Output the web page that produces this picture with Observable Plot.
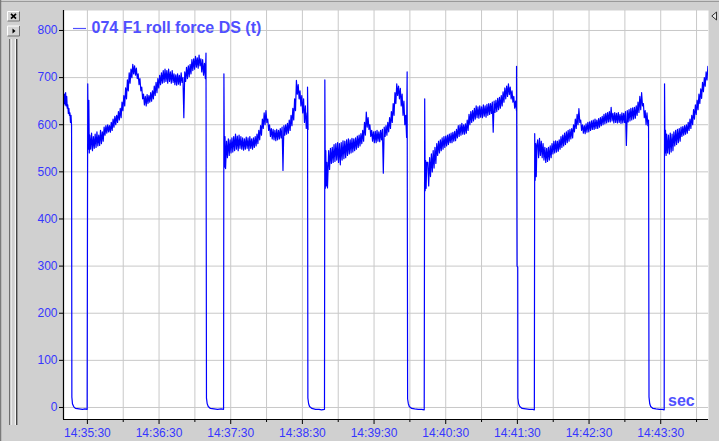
<!DOCTYPE html>
<html>
<head>
<meta charset="utf-8">
<script src="https://cdn.jsdelivr.net/npm/d3@7"></script>
<script src="https://cdn.jsdelivr.net/npm/@observablehq/plot@0.6"></script>
<style>
  html, body { margin: 0; padding: 0; background: #d0d0d0; }
  #wrap { position: relative; width: 719px; height: 441px; background: #d0d0d0; overflow: hidden; }
  #chart { position: absolute; left: 0; top: 0; }
  #deco { position: absolute; left: 0; top: 0; pointer-events: none; }
</style>
</head>
<body>
<div id="wrap">
  <div id="chart"></div>
  <svg id="deco" width="719" height="441" font-family="Liberation Sans, Arial, sans-serif">
    <line x1="0" y1="1.5" x2="719" y2="1.5" stroke="#9a9a9a" stroke-width="1"/>
    <line x1="0.5" y1="0" x2="0.5" y2="441" stroke="#7a7a7a" stroke-width="1.5"/>
    <rect x="7.5" y="11.5" width="12" height="9.5" fill="#d4d4d4" stroke="none"/>
    <path d="M7.5 21 V11.5 H19.5" fill="none" stroke="#ffffff"/>
    <path d="M7.5 21 H19.5 V11.5" fill="none" stroke="#707070"/>
    <path d="M11 13.8 L16 18.6 M16 13.8 L11 18.6" stroke="#000" stroke-width="1.6"/>
    <rect x="7.5" y="26" width="12" height="10" fill="#d4d4d4"/>
    <path d="M7.5 36 V26 H19.5" fill="none" stroke="#ffffff"/>
    <path d="M7.5 36 H19.5 V26" fill="none" stroke="#707070"/>
    <path d="M12.5 28.5 L15.5 31 L12.5 33.5 Z" fill="#000"/>
    <line x1="9.8" y1="39" x2="9.8" y2="425" stroke="#555" stroke-width="1.2"/>
    <line x1="11" y1="39" x2="11" y2="425" stroke="#fff" stroke-width="1"/>
    <line x1="15.3" y1="39" x2="15.3" y2="425" stroke="#fff" stroke-width="1"/>
    <line x1="16.7" y1="39" x2="16.7" y2="425" stroke="#444" stroke-width="1.4"/>
    <path d="M711.8 16 L716.5 12 L716.5 20 Z" fill="#e8e8e8" stroke="#303030" stroke-width="1"/>
    <line x1="73" y1="28.5" x2="86" y2="28.5" stroke="#5050ff" stroke-width="1.2"/>
    <text id="legendText" x="91.5" y="33.3" font-size="16" font-weight="bold" fill="#5050ff"></text>
    <text id="unitText" x="668" y="406" font-size="16" font-weight="bold" fill="#5050ff"></text>
  </svg>
</div>
<script>
// ---------------- data (seconds after 14:35:00, force in t) ----------------
const seriesName = "074 F1 roll force DS (t)";
const unitLabel = "sec";
const baseLabel = "14:35:00";
const xTickLabels = ["14:35:30","14:36:30","14:37:30","14:38:30","14:39:30","14:40:30","14:41:30","14:42:30","14:43:30"];
const xMinorLabels = ["14:36:00","14:37:00","14:38:00","14:39:00","14:40:00","14:41:00","14:42:00","14:43:00","14:44:00"];
const xDomainLabels = ["14:35:10","14:44:10"];
const yTicks = [0,100,200,300,400,500,600,700,800];
const yDomain = [-25.5, 842.4];

// rolling plateaus, regularly sampled: upper and lower edge of the noisy signal
const runStarts = [10, 32, 146.5, 232, 315, 407, 515];
const runSteps  = [0.9, 1.5, 1.5, 1.5, 1.5, 1.5, 1.5];
const run1Hi = [662,665,668,660,642,635,625,620];
const run1Lo = [645,642,640,635,624,620,605,598];
const run2Hi = [578,582,575,580,585,578,588,585,595,598,
                600,598,605,612,618,620,628,635,648,662,
                678,695,710,718,728,725,720,708,698,680,
                665,660,664,662,668,672,682,690,698,705,
                710,715,718,715,718,712,715,708,706,708,
                705,710,700,712,722,725,728,738,740,745,
                742,748,740,738,730];
const run2Lo = [548,545,550,552,555,556,560,565,578,582,
                585,584,588,595,600,605,610,615,630,640,
                655,672,688,700,708,705,698,685,672,655,
                642,640,645,648,650,655,662,668,678,685,
                688,690,692,688,692,688,690,685,684,686,
                684,690,615,692,698,702,708,715,718,722,
                720,725,712,705,698];
const run3Hi = [565,570,568,572,575,580,576,578,575,572,
                570,574,572,575,570,572,575,580,588,598,
                612,625,630,612,600,592,590,588,590,588,
                592,595,598,600,603,610,620,635,655,694,
                685,672,662,655,640,625];
const run3Lo = [530,535,540,542,545,548,545,550,548,546,
                548,550,545,550,548,552,555,560,568,578,
                592,600,605,588,575,570,568,566,568,570,
                572,503,578,580,582,588,598,610,630,665,
                655,640,625,605,592,590];
const run4Hi = [545,550,552,558,560,562,560,562,566,565,
                568,570,568,571,570,572,576,578,581,588,
                605,627,615,600,588,585,586,588,585,588,
                590,595,598,605,615,628,645,668,687,682,
                677,665,650,620];
const run4Lo = [505,518,520,522,525,520,515,525,528,530,
                535,538,540,542,545,548,552,555,560,565,
                578,595,590,575,565,562,562,565,564,568,
                497,575,578,585,592,605,620,645,662,655,
                640,620,600,573];
const run5Hi = [520,530,538,545,552,560,565,568,572,575,
                576,578,580,582,584,586,590,598,600,603,
                600,602,610,622,628,630,635,640,638,640,
                638,642,640,643,645,645,648,650,652,656,
                658,662,670,678,682,687,680,672,660,650];
const run5Lo = [470,490,500,508,518,535,540,545,548,552,
                555,558,562,562,565,566,572,575,578,580,
                580,582,588,600,605,608,612,615,614,616,
                615,618,616,620,622,624,584,626,628,632,
                635,640,648,655,660,664,655,648,635,630];
const run6Hi = [568,571,565,560,552,550,552,555,560,565,
                566,565,568,575,578,582,585,588,590,592,
                600,612,622,634,610,600,598,602,605,606,
                608,610,612,610,613,615,618,622,624,626,
                628,637,624,626,624,626,622,625,624,628,
                630,632,635,636,637,640,648,660,668,645,
                630,625];
const run6Lo = [530,535,530,525,520,522,525,530,538,540,
                542,544,548,552,555,558,562,565,570,572,
                585,592,600,605,588,582,581,584,585,588,
                590,590,592,592,595,598,600,602,604,606,
                606,608,604,605,604,605,603,604,605,556,
                606,608,610,612,614,620,626,632,640,615,
                600,598];
const run7Hi = [580,578,582,580,585,588,590,592,595,596,
                598,600,605,612,620,632,642,652,665,676,
                690,700,712,724];
const run7Lo = [540,538,542,545,555,558,562,565,575,578,
                580,582,588,592,600,612,622,632,645,656,
                670,682,695,705];

// stops between plateaus: [seconds, force]
const gap1 = [[17.0,22],[17.5,8],[18.5,2],[20,-2],[23,-3],[26,-4],[28,-3],[29.8,-4],[30.3,687],[30.7,548],[31.2,652],[31.6,540]];
const gap2 = [[129.3,752],[129.7,20],[130.3,8],[131.2,2],[133,-2],[136,-3],[139,-4],[142,-3],[144,-4],[144.3,708],[144.7,510],[145.2,575],[145.7,507]];
const gap3 = [[214.3,680],[214.6,20],[215.2,8],[216,2],[218,-2],[221,-4],[224,-4],[226,-5],[228.5,-4],[228.8,695],[229.2,465],[229.6,545],[230.0,470],[230.5,520],[231,466]];
const gap4 = [[297.7,712],[298.1,18],[298.7,8],[299.5,2],[301.5,-2],[304,-3],[307,-4],[310,-4],[312,-5],[312.4,655],[312.8,460],[313.2,524],[313.6,465],[314.1,520]];
const gap5 = [[389.3,724],[389.7,300],[390.3,298],[390.4,20],[391,8],[392,2],[394,-2],[397,-3],[400,-4],[403,-4],[404.2,-5],[404.5,581],[404.9,482],[405.3,560],[405.8,490],[406.3,555]];
const gap6 = [[499.8,610],[500.2,22],[500.8,8],[501.6,2],[503.5,-2],[506,-3],[509,-4],[511.5,-4],[512.9,-5],[513.2,687],[513.6,540],[514,588],[514.5,535]];

// ---------------- build table ----------------
const parseT = d3.utcParse("%H:%M:%S");
const base = parseT(baseLabel).getTime();
const at = (s) => new Date(base + s * 1000);
const runsHi = [run1Hi, run2Hi, run3Hi, run4Hi, run5Hi, run6Hi, run7Hi];
const runsLo = [run1Lo, run2Lo, run3Lo, run4Lo, run5Lo, run6Lo, run7Lo];
const gaps = [gap1, gap2, gap3, gap4, gap5, gap6];
const points = [];
runsHi.forEach((hi, i) => {
  const lo = runsLo[i];
  hi.forEach((v, j) => {
    const t = runStarts[i] + j * runSteps[i];
    points.push({time: at(t), force: v});
    points.push({time: at(t + runSteps[i] / 2), force: lo[j]});
  });
  if (gaps[i]) gaps[i].forEach(([s, v]) => points.push({time: at(s), force: v}));
});

const majorTimes = xTickLabels.map(parseT);
const minorTimes = xMinorLabels.map(parseT);
const gridTimes = [...majorTimes, ...minorTimes].sort((a, b) => a - b);
const xDomain = xDomainLabels.map(parseT);
const fmt = d3.utcFormat("%H:%M:%S");

const chart = Plot.plot({
  width: 719,
  height: 441,
  marginLeft: 63,
  marginRight: 11,
  marginTop: 10,
  marginBottom: 22,
  style: {background: "transparent", fontFamily: "Liberation Sans, Arial, sans-serif", fontSize: "12px", color: "black", overflow: "visible"},
  x: {type: "utc", domain: xDomain, label: null},
  y: {domain: yDomain, label: null},
  marks: [
    Plot.frame({fill: "white", stroke: "none"}),
    Plot.gridX(gridTimes, {stroke: "#c8c8c8", strokeOpacity: 1, strokeWidth: 1}),
    Plot.gridY(yTicks, {stroke: "#c8c8c8", strokeOpacity: 1, strokeWidth: 1}),
    Plot.line(points, {x: "time", y: "force", stroke: "#0000ff", strokeWidth: 1.2, clip: true}),
    Plot.ruleX([xDomain[0]], {stroke: "black", strokeWidth: 1.2}),
    Plot.ruleY([yDomain[0]], {stroke: "black", strokeWidth: 1.2}),
    Plot.axisY(yTicks, {anchor: "left", tickSize: 4, tickPadding: 2, color: "#3636ff", stroke: "black", fontSize: 12, label: null}),
    Plot.axisX(majorTimes, {anchor: "bottom", tickSize: 5, tickPadding: 4, tickFormat: fmt, color: "#3636ff", stroke: "black", fontSize: 12, label: null}),
    Plot.axisX(minorTimes, {anchor: "bottom", tickSize: 3, tickFormat: () => "", color: "black", stroke: "black", label: null})
  ]
});
document.getElementById("chart").appendChild(chart);
document.getElementById("legendText").textContent = seriesName;
document.getElementById("unitText").textContent = unitLabel;
</script>
</body>
</html>
